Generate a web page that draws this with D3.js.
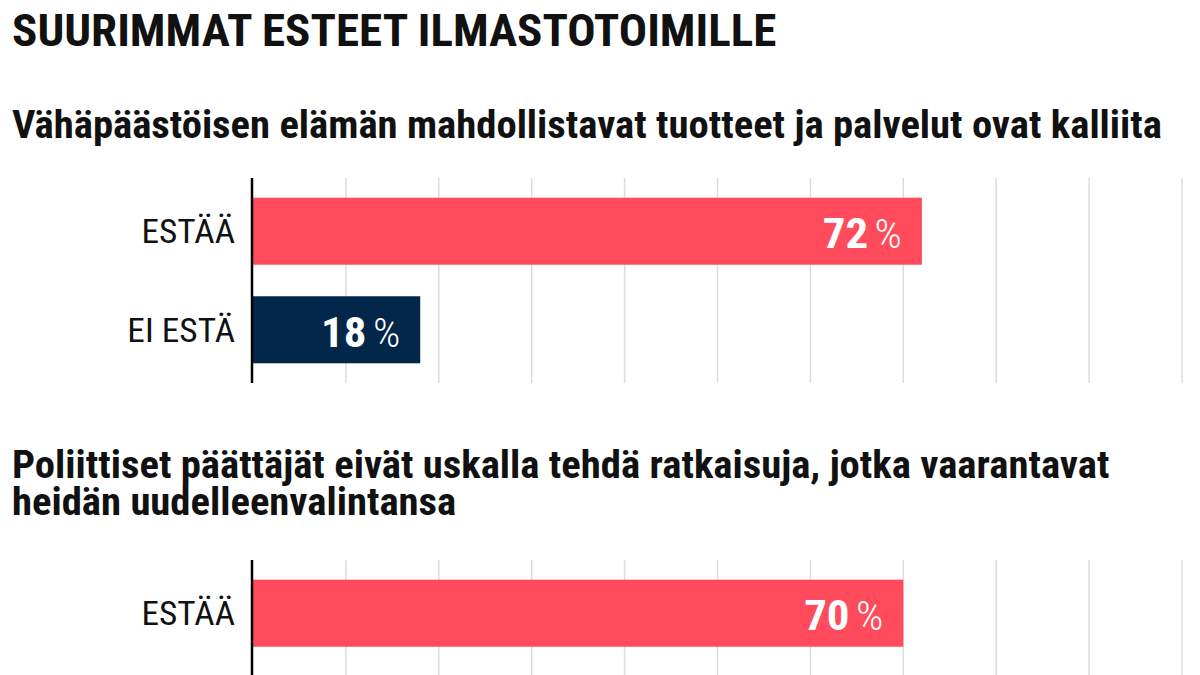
<!DOCTYPE html>
<html>
<head>
<meta charset="utf-8">
<script src="https://cdn.jsdelivr.net/npm/d3@7"></script>
<style>
  body { margin: 0; background: #fff; }
  text { font-family: "Roboto Condensed", Roboto, "Liberation Sans Narrow", sans-serif; }
</style>
</head>
<body>
<script>
var width = 1200;
var height = 675;

// data
var title = "SUURIMMAT ESTEET ILMASTOTOIMILLE";
var questions = [
    ["Vähäpäästöisen elämän mahdollistavat tuotteet ja palvelut ovat kalliita"],
    ["Poliittiset päättäjät eivät uskalla tehdä ratkaisuja, jotka vaarantavat", "heidän uudelleenvalintansa"]
];
var categories = ["ESTÄÄ", "EI ESTÄ"];
var values1 = [72, 18];
var values2 = [70];   // second row is cut off in the picture
var allValues = [values1, values2];
var ticks = [0, 10, 20, 30, 40, 50, 60, 70, 80, 90, 100];

var colors = ["#ff4b5b", "#02274b"];
var stretch = 1.07;   // the original face is a touch wider

var svg = d3.select("body")
    .append("svg")
    .attr("width", width)
    .attr("height", height);

var x = d3.scaleLinear().domain([0, 100]).range([253, 1182]);

function condText(parent, tx, ty, str, size, weight, anchor, fill) {
    var g = parent.append("g")
        .attr("transform", "translate(" + tx + "," + ty + ") scale(" + stretch + ",1)");
    var t = g.append("text")
        .attr("font-size", size)
        .attr("font-weight", weight)
        .attr("text-anchor", anchor || "start")
        .attr("fill", fill || "#111")
        .text(str);
    return t;
}

condText(svg, 12, 46, title, 44, 700);

var panelTops = [178, 560];
var subBaselines = [138, 478];

questions.forEach(function(lines, p) {
    lines.forEach(function(line, i) {
        condText(svg, 12, subBaselines[p] + i * 37, line, 38, 700);
    });

    var top = panelTops[p];
    var y = d3.scaleBand()
        .domain(categories)
        .range([top, top + 205])
        .paddingInner(0.32)
        .paddingOuter(0.2);

    var panel = svg.append("g");

    // gridlines
    panel.selectAll(".grid")
        .data(ticks.slice(1))
        .enter().append("line")
        .attr("class", "grid")
        .attr("x1", function(d) { return x(d); })
        .attr("x2", function(d) { return x(d); })
        .attr("y1", top)
        .attr("y2", top + 205)
        .attr("stroke", "#dcdcdc")
        .attr("stroke-width", 1.5);

    var vals = allValues[p];
    var rows = vals.map(function(v, i) { return { cat: categories[i], value: v, i: i }; });

    panel.selectAll(".bar")
        .data(rows)
        .enter().append("rect")
        .attr("class", "bar")
        .attr("x", x(0))
        .attr("y", function(d) { return y(d.cat); })
        .attr("width", function(d) { return x(d.value) - x(0); })
        .attr("height", y.bandwidth())
        .attr("fill", function(d) { return colors[d.i]; });

    // axis line on top of bars
    panel.append("line")
        .attr("x1", x(0) - 1)
        .attr("x2", x(0) - 1)
        .attr("y1", top)
        .attr("y2", top + 205)
        .attr("stroke", "#000")
        .attr("stroke-width", 2.5);

    rows.forEach(function(d) {
        var cy = y(d.cat) + y.bandwidth() / 2;
        condText(panel, x(0) - 18, cy + 12, d.cat, 33, 400, "end", "#111");
        var t = condText(panel, x(d.value) - 20, cy + 17, "", 42, 700, "end", "#fff");
        t.append("tspan").text(d.value);
        t.append("tspan").attr("font-size", 40).attr("font-weight", 300).attr("dx", 6).text("%");
    });
});
</script>
</body>
</html>
